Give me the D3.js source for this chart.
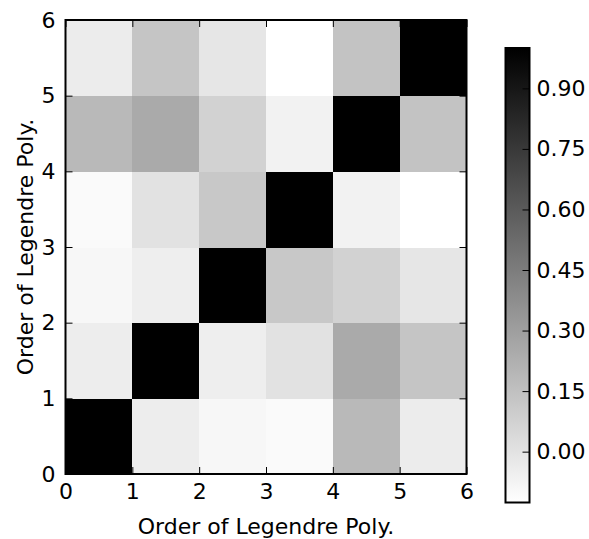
<!DOCTYPE html>
<html>
<head>
<meta charset="utf-8">
<script src="https://cdn.jsdelivr.net/npm/d3@7"></script>
<style>
  body { margin: 0; background: #fff; }
  svg { display: block; }
  text { font-family: "DejaVu Sans", sans-serif; }
</style>
</head>
<body>
<div id="chart"></div>
<script>
// Correlation between Legendre polynomial orders (row = y order, col = x order).
const orders = [0, 1, 2, 3, 4, 5];
const row0 = [1.000, -0.047, -0.091, -0.102, 0.181, -0.042];
const row1 = [-0.047, 1.000, -0.053, 0.000, 0.249, 0.128];
const row2 = [-0.091, -0.053, 1.000, 0.115, 0.073, -0.016];
const row3 = [-0.102, 0.000, 0.115, 1.000, -0.069, -0.126];
const row4 = [0.181, 0.249, 0.073, -0.069, 1.000, 0.137];
const row5 = [-0.042, 0.128, -0.016, -0.126, 0.137, 1.000];
const matrix = [row0, row1, row2, row3, row4, row5];

const axisTicks = [0, 1, 2, 3, 4, 5, 6];
const cbarTicks = [0.00, 0.15, 0.30, 0.45, 0.60, 0.75, 0.90];
const axisLabel = "Order of Legendre Poly.";

const width = 589,
      height = 539;

const svg = d3.select("#chart").append("svg")
    .attr("width", width)
    .attr("height", height)
    .attr("viewBox", [0, 0, width, height]);

// Plot area.
const plotLeft = 65.5, plotRight = 466.5, plotTop = 20, plotBottom = 474;
const x = d3.scaleLinear([0, 6], [plotLeft, plotRight]);
const y = d3.scaleLinear([0, 6], [plotBottom, plotTop]);

const flat = matrix.flat();
const [vmin, vmax] = d3.extent(flat);
const color = d3.scaleLinear([vmin, vmax], ["#ffffff", "#000000"]);

const cells = [];
matrix.forEach((row, i) => row.forEach((v, j) => cells.push({i: i, j: j, v: v})));

svg.append("g")
    .selectAll("rect")
    .data(cells)
    .join("rect")
        .attr("x", d => x(orders[d.j]))
        .attr("y", d => y(orders[d.i] + 1))
        .attr("width", d => x(orders[d.j] + 1) - x(orders[d.j]) + 0.5)
        .attr("height", d => y(orders[d.i]) - y(orders[d.i] + 1) + 0.5)
        .attr("fill", d => color(d.v))
        .attr("shape-rendering", "crispEdges");

// Inward ticks on all four sides, labels bottom and left only.
function styleAxis(g) {
    g.select(".domain").remove();
    g.selectAll(".tick line").attr("stroke", "#000").attr("stroke-width", 1);
    g.selectAll("text").attr("font-size", 22).attr("fill", "#000")
        .attr("font-family", "DejaVu Sans");
}

svg.append("g")
    .attr("transform", `translate(0,${plotBottom})`)
    .call(d3.axisBottom(x).tickValues(axisTicks).tickSize(-7).tickSizeOuter(0)
        .tickPadding(9.5).tickFormat(d3.format("d")))
    .call(styleAxis);

svg.append("g")
    .attr("transform", `translate(0,${plotTop})`)
    .call(d3.axisTop(x).tickValues(axisTicks).tickSize(-7).tickSizeOuter(0).tickFormat(""))
    .call(styleAxis);

svg.append("g")
    .attr("transform", `translate(${plotLeft},0)`)
    .call(d3.axisLeft(y).tickValues(axisTicks).tickSize(-7).tickSizeOuter(0)
        .tickPadding(10).tickFormat(d3.format("d")))
    .call(styleAxis);

svg.append("g")
    .attr("transform", `translate(${plotRight},0)`)
    .call(d3.axisRight(y).tickValues(axisTicks).tickSize(-7).tickSizeOuter(0).tickFormat(""))
    .call(styleAxis);

svg.append("rect")
    .attr("x", plotLeft)
    .attr("y", plotTop)
    .attr("width", plotRight - plotLeft)
    .attr("height", plotBottom - plotTop)
    .attr("fill", "none")
    .attr("stroke", "#000")
    .attr("stroke-width", 2);

// Axis labels.
svg.append("text")
    .attr("x", (plotLeft + plotRight) / 2)
    .attr("y", 534)
    .attr("text-anchor", "middle")
    .attr("font-size", 22)
    .text(axisLabel);

svg.append("text")
    .attr("transform", `translate(33,${(plotTop + plotBottom) / 2}) rotate(-90)`)
    .attr("text-anchor", "middle")
    .attr("font-size", 22)
    .text(axisLabel);

// Colorbar.
const cbLeft = 505.5, cbRight = 529.5, cbTop = 48, cbBottom = 502.5;
const cy = d3.scaleLinear([vmin, vmax], [cbBottom, cbTop]);

const grad = svg.append("defs").append("linearGradient")
    .attr("id", "cbar-grad")
    .attr("x1", 0).attr("y1", 1)
    .attr("x2", 0).attr("y2", 0);
grad.selectAll("stop")
    .data([vmin, vmax])
    .join("stop")
        .attr("offset", d => (d - vmin) / (vmax - vmin))
        .attr("stop-color", d => color(d));

svg.append("rect")
    .attr("x", cbLeft)
    .attr("y", cbTop)
    .attr("width", cbRight - cbLeft)
    .attr("height", cbBottom - cbTop)
    .attr("fill", "url(#cbar-grad)");

svg.append("g")
    .attr("transform", `translate(${cbRight},0)`)
    .call(d3.axisRight(cy).tickValues(cbarTicks).tickSize(-7).tickSizeOuter(0)
        .tickPadding(7).tickFormat(d3.format(".2f")))
    .call(styleAxis);

svg.append("rect")
    .attr("x", cbLeft)
    .attr("y", cbTop)
    .attr("width", cbRight - cbLeft)
    .attr("height", cbBottom - cbTop)
    .attr("fill", "none")
    .attr("stroke", "#000")
    .attr("stroke-width", 2);
</script>
</body>
</html>
